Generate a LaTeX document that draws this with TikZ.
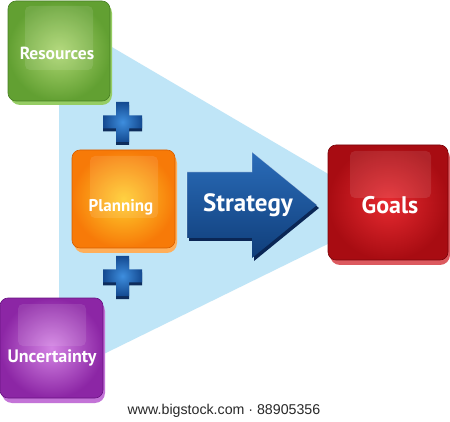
\documentclass[tikz,border=0pt]{standalone}
\usepackage{fontspec}
\setmainfont{Liberation Sans}
\newfontfamily\labelfont{PT Sans}
\definecolor{triblue}{RGB}{191,229,247}
\definecolor{gOut}{RGB}{98,160,50}
\definecolor{gIn}{RGB}{172,214,112}
\definecolor{gRim}{RGB}{150,205,100}
\definecolor{gLine}{RGB}{72,128,36}
\definecolor{oOut}{RGB}{247,122,8}
\definecolor{oIn}{RGB}{255,205,45}
\definecolor{oRim}{RGB}{255,175,90}
\definecolor{oLine}{RGB}{215,95,0}
\definecolor{rOut}{RGB}{168,12,18}
\definecolor{rIn}{RGB}{230,42,48}
\definecolor{rRim}{RGB}{220,90,95}
\definecolor{rLine}{RGB}{120,5,10}
\definecolor{pOut}{RGB}{140,38,165}
\definecolor{pIn}{RGB}{212,132,228}
\definecolor{pRim}{RGB}{195,115,215}
\definecolor{pLine}{RGB}{105,20,130}
\definecolor{aTop}{RGB}{42,108,185}
\definecolor{aBot}{RGB}{16,62,122}
\definecolor{aRim}{RGB}{10,38,85}
\definecolor{plIn}{RGB}{62,142,222}
\definecolor{plOut}{RGB}{20,74,145}
\definecolor{plRim}{RGB}{14,45,92}
\definecolor{foot}{RGB}{40,40,40}
\tikzset{
  box/.style={rectangle, rounded corners=8pt, inner sep=0pt, line width=0.6pt},
  rim/.style={rectangle, rounded corners=10pt, inner sep=0pt},
  shine/.style={fill=white, opacity=0.1, rounded corners=5pt},
  lbl/.style={font=\labelfont\bfseries\fontsize{#1}{#1}\selectfont, text=white, inner sep=0pt},
  pics/plus/.style={code={
    \fill[plRim] (-6.5,-17) -- (6.5,-17) -- (6.5,-3.5) -- (19.5,-3.5) -- (19.5,9.5) -- (6.5,9.5) -- (6.5,23) -- (-6.5,23) -- (-6.5,9.5) -- (-19.5,9.5) -- (-19.5,-3.5) -- (-6.5,-3.5) -- cycle;
    \shade[inner color=plIn, outer color=plOut] (-6.5,-20) -- (6.5,-20) -- (6.5,-6.5) -- (19.5,-6.5) -- (19.5,6.5) -- (6.5,6.5) -- (6.5,20) -- (-6.5,20) -- (-6.5,6.5) -- (-19.5,6.5) -- (-19.5,-6.5) -- (-6.5,-6.5) -- cycle;
  }}
}
\begin{document}
\begin{tikzpicture}[x=1pt,y=-1pt]
\useasboundingbox (0,0) rectangle (450,422);
\fill[white] (0,0) rectangle (450,422);
% light blue funnel
\fill[triblue] (59,16) -- (393,212) -- (59,376) -- cycle;

% plus signs
\pic (plusA) at (122.5,122) {plus};
\pic (plusB) at (122.5,276) {plus};

% Resources
\node[rim, fill=gRim, minimum width=102pt, minimum height=102pt] (resrim) at (61,54) {};
\node[box, inner color=gIn, outer color=gOut, draw=gLine, minimum width=102pt, minimum height=100pt] (res) at (59,51) {};
\fill[shine] (25,6) rectangle (93,70);

% Planning
\node[rim, fill=oRim, minimum width=103pt, minimum height=100pt] (planrim) at (125.5,203) {};
\node[box, inner color=oIn, outer color=oOut, draw=oLine, minimum width=103pt, minimum height=98pt] (plan) at (123.5,199) {};
\fill[shine] (90,156) rectangle (158,218);

% Goals
\node[rim, fill=rRim, minimum width=120pt, minimum height=117pt] (goalrim) at (390,206.5) {};
\node[box, inner color=rIn, outer color=rOut, draw=rLine, minimum width=120pt, minimum height=115pt] (goals) at (388,202.5) {};
\fill[shine] (350,151) rectangle (431,198);

% Uncertainty
\node[rim, fill=pRim, minimum width=103pt, minimum height=102pt] (uncrim) at (53.5,352) {};
\node[box, inner color=pIn, outer color=pOut, draw=pLine, minimum width=103pt, minimum height=100pt] (unc) at (51.5,348) {};
\fill[shine] (18,304) rectangle (86,346);

% Strategy arrow
\fill[aRim] (189,175) -- (254,175) -- (254,155) -- (319,208) -- (254,261) -- (254,241) -- (189,241) -- cycle;
\shade[top color=aTop, bottom color=aBot] (187,172) -- (252,172) -- (252,152) -- (317,205) -- (252,258) -- (252,238) -- (187,238) -- cycle;
\draw[white, opacity=0.35, line width=0.6pt] (187,238) -- (187,172) -- (252,172) -- (252,152) -- (317,205);
\coordinate (strat) at (248,205);

% labels
\node[lbl=17.5] (resT) at (57,53) {Resources};
\node[lbl=17] (planT) at (121,207) {Planning};
\node[lbl=25] (stratT) at (strat) {Strategy};
\node[lbl=24] (goalT) at (390,205) {Goals};
\node[lbl=18] (uncT) at (52,358) {Uncertainty};

% footer
\node[font=\fontsize{14.2}{15}\selectfont, text=foot, inner sep=0pt] (footer) at (224,411) {www.bigstock.com · 88905356};
\end{tikzpicture}
\end{document}
